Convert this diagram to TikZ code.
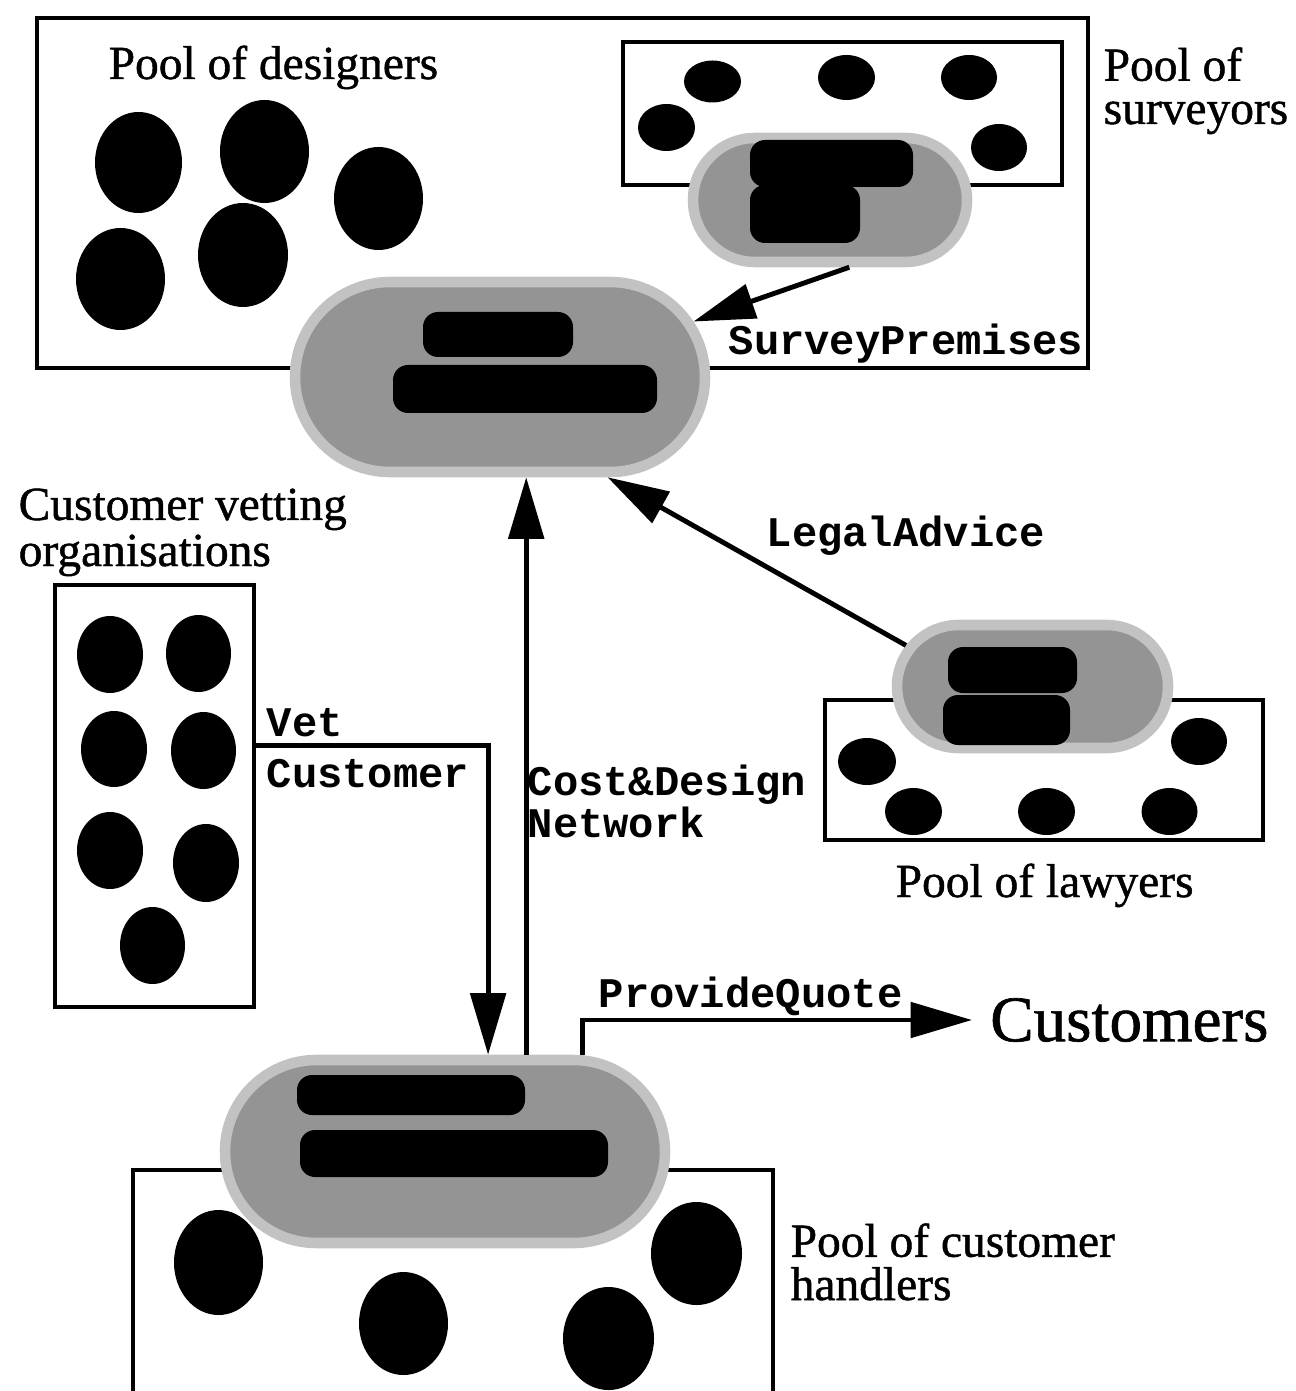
\documentclass[tikz,border=0pt]{standalone}
\usepackage{fontspec}
\setmainfont{Liberation Serif}[FakeBold=1]
\setmonofont{Liberation Mono}
\usetikzlibrary{arrows.meta,shapes.misc,calc}
\begin{document}
\begin{tikzpicture}[x=0.1mm,y=-0.1mm,
  poolbox/.style={draw, line width=1.4pt, rectangle, inner sep=0pt},
  blob/.style={rounded rectangle, fill=black!42, draw=black!24, line width=3pt, inner sep=0pt},
  smudge/.style={fill=black, rounded corners=1.5mm},
  member/.style={fill=black},
  conn/.style={line width=1.4pt, -{Triangle[length=17.5pt,width=10pt]}},
  serif/.style={font=\fontsize{13.5}{13.5}\selectfont, inner sep=0pt},
  mono/.style={font=\fontsize{12}{12}\selectfont\ttfamily\bfseries, inner sep=0pt},
  big/.style={font=\fontsize{18.5}{18.5}\selectfont}
]
\useasboundingbox (0,0) rectangle (1295,1391);

% pool boxes
\node[poolbox, minimum width=105.1mm, minimum height=35mm] (designers) at (562.5,193) {};
\node[poolbox, minimum width=43.9mm, minimum height=14.3mm] (surveyors) at (842.5,113.5) {};
\node[poolbox, minimum width=43.8mm, minimum height=14mm] (lawyers) at (1044,770) {};
\node[poolbox, minimum width=19.9mm, minimum height=42.2mm] (vetbox) at (154.5,796) {};
\draw[line width=1.4pt] (133,1391) -- (133,1170) -- (773,1170) -- (773,1391);

% pool members
\foreach \x/\y/\a/\b in {138.5/162.5/43.5/50.5, 264.5/151.5/44.5/51.5, 378.5/198.5/44.5/51.5,
  120.5/279/44.5/51, 243/255/45/52,
  712.5/81.5/28.5/21, 846.5/77.5/28.5/22.5, 969/77.5/28/22.5, 666.5/127.5/28.5/23.5, 999/147.5/28/23.5,
  110/654.5/33/38.5, 198.5/653.5/32.5/38.5, 114/749/33/38, 203.5/750.5/32.5/38.5,
  110/850.5/33/38.5, 206/863/33/39, 152.5/945.5/32.5/38.5,
  867/761.5/29/23.5, 913.5/811.5/28.5/23.5, 1046.5/811.5/28.5/23.5, 1169.5/811.5/28/23.5, 1199/741.5/28/23.5,
  218.5/1262.5/44.5/52.5, 403.5/1323.5/44.5/51.5, 608.5/1338.5/45.5/51.5, 696.5/1253.5/45.5/51.5}
  \fill[member] (\x,\y) ellipse [x radius=\a*0.1mm, y radius=\b*0.1mm];

% service blobs
\node[blob, minimum width=27.4mm, minimum height=12.4mm] (surveyblob) at (830,200) {};
\node[blob, minimum width=41mm, minimum height=19mm] (designblob) at (500,377) {};
\node[blob, minimum width=27.1mm, minimum height=12.3mm] (lawblob) at (1032.5,686.5) {};
\node[blob, minimum width=44mm, minimum height=18.3mm] (custblob) at (445,1151.5) {};

% obscured names inside the blobs
\fill[smudge] (750,140) rectangle (913,187);
\fill[smudge] (750,185) rectangle (860,243);
\fill[smudge] (423,312) rectangle (573,357);
\fill[smudge] (393,365) rectangle (657,413);
\fill[smudge] (948,647) rectangle (1077,693);
\fill[smudge] (943,695) rectangle (1070,745);
\fill[smudge] (297,1075) rectangle (525,1115);
\fill[smudge] (300,1130) rectangle (608,1177);

% labels (base anchor of a multi-line node = baseline of its last line)
\node[serif, anchor=base west] (ldesigners) at (108,79) {Pool of designers};
\node[serif, anchor=base west, align=left, font=\fontsize{13.5}{12.3}\selectfont] (lsurveyors) at (1103,124) {Pool of\\surveyors};
\node[serif, anchor=base west, align=left, font=\fontsize{13.5}{13.1}\selectfont] (lvetting) at (18,566) {Customer vetting\\organisations};
\node[serif, anchor=base west] (llawyers) at (895,897) {Pool of lawyers};
\node[serif, anchor=base west, align=left, font=\fontsize{13.5}{12.3}\selectfont] (lhandlers) at (790,1300) {Pool of customer\\handlers};
\node[big, anchor=west, inner sep=5pt] (customers) at (972,1020) {Customers};

\node[mono, anchor=base west] (lsurvey) at (728,355) {SurveyPremises};
\node[mono, anchor=base west] (llegal) at (766,546) {LegalAdvice};
\node[mono, anchor=base west, align=left, font=\fontsize{12}{14.5}\selectfont\ttfamily\bfseries] (lvet) at (266,787) {Vet\\Customer};
\node[mono, anchor=base west, align=left, font=\fontsize{12}{11.7}\selectfont\ttfamily\bfseries] (lcost) at (527,837) {Cost\&Design\\Network};
\node[mono, anchor=base west] (lquote) at (598,1007) {ProvideQuote};

% connectors
\draw[conn] (surveyblob.-74) -- (designblob.16);
\draw[conn] (lawblob.162.5) -- (designblob.-43.5);
\draw[conn] (custblob.50.7) -- (custblob.50.7 |- designblob.south);
\draw[conn] ($(vetbox.north east)!0.3815!(vetbox.south east)$) -| (custblob.66.5);
\draw[conn] (custblob.35) |- (customers.west);
\end{tikzpicture}
\end{document}
